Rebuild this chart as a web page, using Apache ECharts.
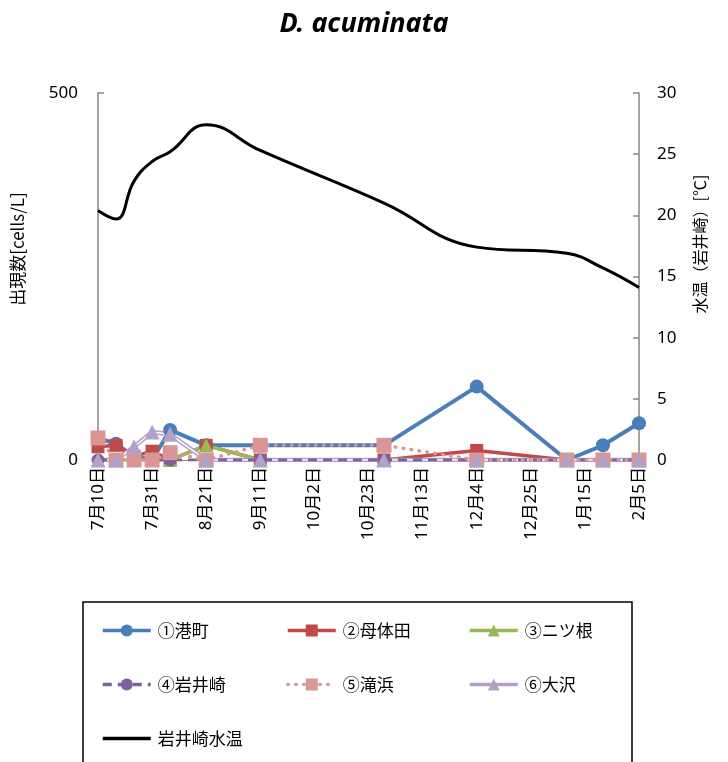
<!DOCTYPE html>
<html>
<head>
<meta charset="utf-8">
<script src="https://cdn.jsdelivr.net/npm/echarts@6/dist/echarts.min.js"></script>
<style>html,body{margin:0;padding:0;background:#fff;}#c{width:728px;height:762px;}</style>
</head>
<body>
<div id="c"></div>
<script>
// ---- data ----
var sampleDates = ['7/10','7/17','7/24','7/31','8/7','8/21','9/11','10/29','12/4','1/8','1/22','2/5'];
var minatomachi = [30, 22, 5, 0, 41, 20, 20, 20, 100, 0, 20, 50];
var motaida     = [18, 20, 5, 12, 0, 20, 0, 0, 13, 0, 0, 0];
var futatsune   = [0, 0, 0, 0, 0, 20, 0, 0, 0, 0, 0, 0];
var iwaisaki    = [0, 0, 0, 0, 0, 0, 0, 0, 0, 0, 0, 0];
var takihama    = [30, 0, 0, 0, 10, 0, 20, 20, 0, 0, 0, 0];
var osawa       = [0, 0, 18, 38, 35, 0, 0, 0, 0, 0, 0, 0];
var waterTemp   = [20.4, 19.7, 22.8, 24.4, 25.2, 27.4, 25.3, 21.0, 17.4, 16.9, 15.7, 14.1];
var leftTicks = [0, 500];
var rightTicks = [0, 5, 10, 15, 20, 25, 30];

// ---- helpers ----
var DAY = 86400000;
var base = Date.UTC(2014, 6, 10);
function dayOffset(s) {
  var p = s.split('/'); var m = +p[0], d = +p[1];
  var y = m >= 7 ? 2014 : 2015;
  return Math.round((Date.UTC(y, m - 1, d) - base) / DAY);
}
function dayLabel(v) {
  var dt = new Date(base + v * DAY);
  return (dt.getUTCMonth() + 1) + '月' + dt.getUTCDate() + '日';
}
var xs = sampleDates.map(dayOffset);
function pairs(arr) { return arr.map(function (v, i) { return [xs[i], v]; }); }

var FONT = '"Noto Sans CJK JP", "Noto Sans", sans-serif';
var FONT2 = '"Noto Sans", "Noto Sans CJK JP", sans-serif';
var chart = echarts.init(document.getElementById('c'), null, {renderer: 'canvas'});

var legendCommon = {
  orient: 'vertical', itemWidth: 48, itemHeight: 15, itemGap: 37, padding: 0,
  lineStyle: {width: 3.5},
  textStyle: {fontSize: 17, color: '#000', fontFamily: FONT, padding: [0, 0, 0, 2]}
};
function mkLegend(left, data) {
  return Object.assign({}, legendCommon, {left: left, top: 622, data: data});
}

var option = {
  backgroundColor: '#fff',
  animation: false,
  textStyle: {fontFamily: FONT},
  title: {
    text: 'D. acuminata', left: 'center', top: 6,
    textStyle: {fontFamily: '"Noto Sans", sans-serif', fontSize: 27, fontWeight: 'bold', fontStyle: 'italic', color: '#000'}
  },
  grid: {left: 98, right: 89, top: 93, bottom: 302, containLabel: false, outerBoundsMode: 'none'},
  xAxis: {
    type: 'value', min: 0, max: 210, interval: 21,
    axisLine: {show: true, lineStyle: {color: '#868686', width: 1}},
    axisTick: {show: false},
    splitLine: {show: false},
    axisLabel: {rotate: 90, fontSize: 17, color: '#000', margin: 7, fontFamily: FONT2,
      formatter: function (v) { return dayLabel(v); }}
  },
  yAxis: [
    {
      type: 'value', min: leftTicks[0], max: leftTicks[leftTicks.length - 1], interval: 500,
      axisLine: {show: true, lineStyle: {color: '#868686', width: 1.5}},
      axisTick: {show: true, inside: true, length: 6, lineStyle: {color: '#868686', width: 1.5}},
      splitLine: {show: false},
      axisLabel: {fontSize: 17, color: '#000', margin: 20, fontFamily: '"Noto Sans", sans-serif'}
    },
    {
      type: 'value', min: rightTicks[0], max: rightTicks[rightTicks.length - 1], interval: 5,
      position: 'right',
      axisLine: {show: true, lineStyle: {color: '#868686', width: 1.5}},
      axisTick: {show: true, inside: true, length: 6, lineStyle: {color: '#868686', width: 1.5}},
      splitLine: {show: false},
      axisLabel: {fontSize: 17, color: '#000', margin: 18, fontFamily: '"Noto Sans", sans-serif'}
    }
  ],
  legend: [
    mkLegend(101, ['①港町', '④岩井崎', {name: '岩井崎水温', icon: 'path://M0,0H48V3.5H0Z'}]),
    mkLegend(286, ['②母体田', '⑤滝浜']),
    mkLegend(468, ['③ニツ根', '⑥大沢'])
  ],
  graphic: [
    {type: 'rect', shape: {x: 83, y: 602, width: 549, height: 180}, style: {fill: 'none', stroke: '#000', lineWidth: 1.5}, silent: true},
    {type: 'text', x: 18, y: 249, rotation: Math.PI / 2, silent: true,
     style: {text: '出現数[cells/L]', fontSize: 17, fontFamily: FONT, fill: '#000', align: 'center', verticalAlign: 'middle'}},
    {type: 'text', x: 700, y: 244, rotation: Math.PI / 2, silent: true,
     style: {text: '水温（岩井崎）[℃]', fontSize: 16, fontFamily: FONT, fill: '#000', align: 'center', verticalAlign: 'middle'}}
  ],
  series: [
    {name: '①港町', type: 'line', data: pairs(minatomachi), symbol: 'circle', symbolSize: 14,
     lineStyle: {color: '#4A7EBB', width: 4}, itemStyle: {color: '#4A7EBB'}},
    {name: '②母体田', type: 'line', data: pairs(motaida), symbol: 'rect', symbolSize: 13,
     lineStyle: {color: '#BE4B48', width: 3.5}, itemStyle: {color: '#BE4B48'}},
    {name: '③ニツ根', type: 'line', data: pairs(futatsune), symbol: 'triangle', symbolSize: 14,
     lineStyle: {color: '#98B954', width: 3.5}, itemStyle: {color: '#98B954'}},
    {name: '⑥outer', type: 'line', data: pairs(osawa), symbol: 'none', silent: true,
     lineStyle: {color: '#B3A2C7', width: 4.5}},
    {name: '⑥inner', type: 'line', data: pairs(osawa), symbol: 'none', silent: true,
     lineStyle: {color: '#ffffff', width: 1.5}},
    {name: '④岩井崎', type: 'line', data: pairs(iwaisaki), symbol: 'circle', symbolSize: 13,
     lineStyle: {color: '#7D60A0', width: 3, type: [9, 6]}, itemStyle: {color: '#7D60A0'}},
    {name: '⑤滝浜', type: 'line', data: pairs(takihama), symbol: 'rect', symbolSize: 15,
     lineStyle: {color: '#D99694', width: 3.5, type: [0.5, 7.5], cap: 'round'}, itemStyle: {color: '#D99694'}},
    {name: '⑥大沢', type: 'line', data: pairs(osawa), symbol: 'triangle', symbolSize: 15,
     lineStyle: {color: '#B3A2C7', width: 0}, itemStyle: {color: '#B3A2C7'}},
    {name: '岩井崎水温', type: 'line', yAxisIndex: 1, data: pairs(waterTemp), symbol: 'none', smooth: 0.45,
     lineStyle: {color: '#000', width: 3}, itemStyle: {color: '#000'}}
  ]
};
chart.setOption(option);
</script>
</body>
</html>
